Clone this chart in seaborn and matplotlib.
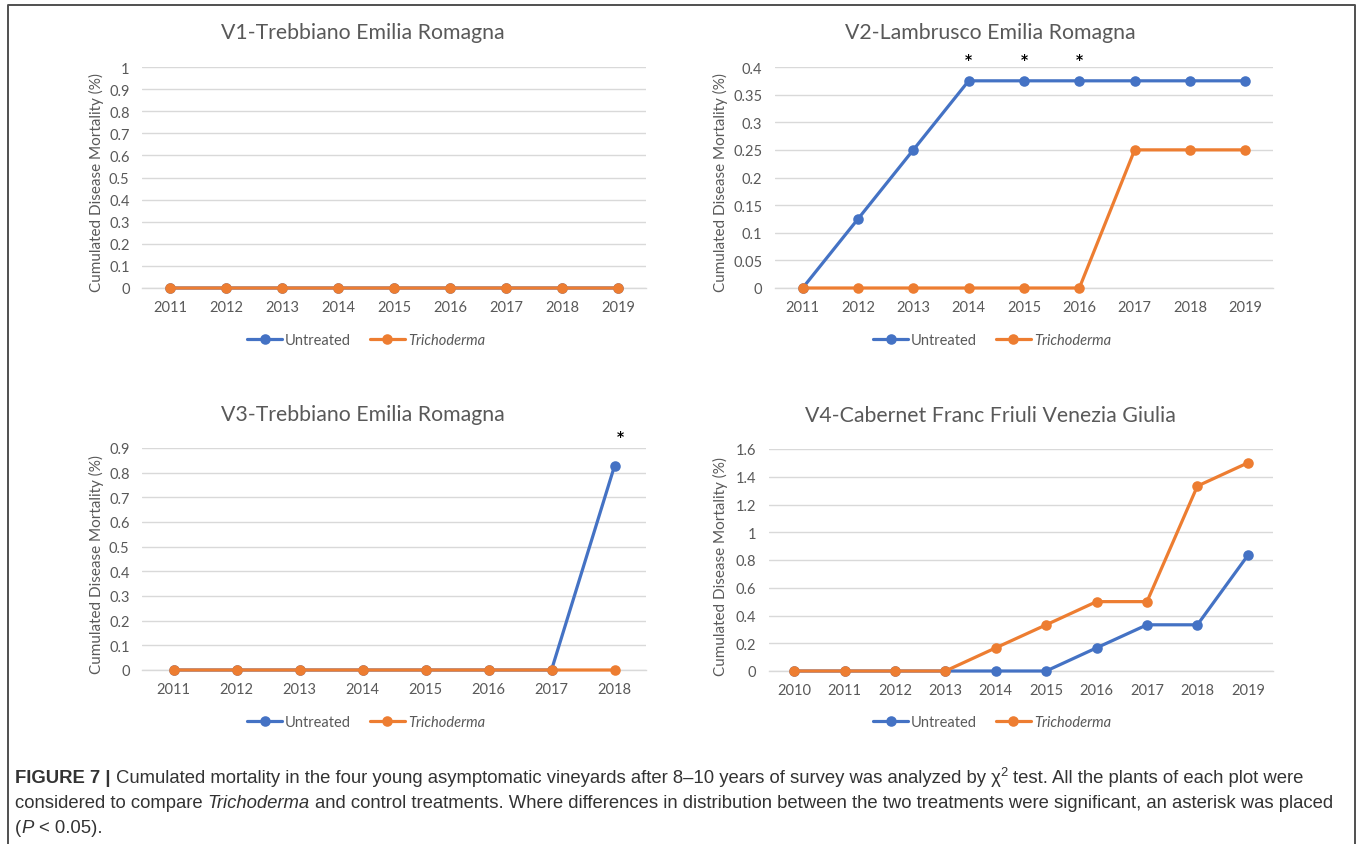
import matplotlib
matplotlib.use("Agg")
import matplotlib.pyplot as plt
from matplotlib.lines import Line2D
from matplotlib.ticker import MultipleLocator, FixedLocator, FuncFormatter
from matplotlib.transforms import blended_transform_factory
import pandas as pd
import seaborn as sns

# ---------------------------------------------------------------- data
v1_title = "V1-Trebbiano Emilia Romagna"
v1_years = [2011, 2012, 2013, 2014, 2015, 2016, 2017, 2018, 2019]
v1_untreated = [0, 0, 0, 0, 0, 0, 0, 0, 0]
v1_trichoderma = [0, 0, 0, 0, 0, 0, 0, 0, 0]
v1_significant = []

v2_title = "V2-Lambrusco Emilia Romagna"
v2_years = [2011, 2012, 2013, 2014, 2015, 2016, 2017, 2018, 2019]
v2_untreated = [0, 0.125, 0.25, 0.375, 0.375, 0.375, 0.375, 0.375, 0.375]
v2_trichoderma = [0, 0, 0, 0, 0, 0, 0.25, 0.25, 0.25]
v2_significant = [2014, 2015, 2016]

v3_title = "V3-Trebbiano Emilia Romagna"
v3_years = [2011, 2012, 2013, 2014, 2015, 2016, 2017, 2018]
v3_untreated = [0, 0, 0, 0, 0, 0, 0, 0.827]
v3_trichoderma = [0, 0, 0, 0, 0, 0, 0, 0]
v3_significant = [2018]

v4_title = "V4-Cabernet Franc Friuli Venezia Giulia"
v4_years = [2010, 2011, 2012, 2013, 2014, 2015, 2016, 2017, 2018, 2019]
v4_untreated = [0, 0, 0, 0, 0, 0, 0.167, 0.333, 0.333, 0.833]
v4_trichoderma = [0, 0, 0, 0, 0.167, 0.333, 0.5, 0.5, 1.333, 1.5]
v4_significant = []

treatments = ["Untreated", "Trichoderma"]
ylabel = "Cumulated Disease Mortality (%)"

# ---------------------------------------------------------------- style
sns.set_theme(style="white")
CHART_FONT = ["Lato", "DejaVu Sans"]
CAPTION_FONT = ["Liberation Sans", "DejaVu Sans"]
plt.rcParams["font.family"] = CHART_FONT

BLUE, ORANGE = "#4472C4", "#ED7D31"
palette = {"Untreated": BLUE, "Trichoderma": ORANGE}
z_order = {"Untreated": 3, "Trichoderma": 4}
TEXT = "#595959"
GRID = "#d9d9d9"
LW, MS = 2.3, 7.6

W, H = 1357, 845
fig = plt.figure(figsize=(W / 100, H / 100), dpi=100)
fig.patch.set_facecolor("white")


def px_axes(x0, y0, x1, y1):
    return fig.add_axes([x0 / W, 1 - y1 / H, (x1 - x0) / W, (y1 - y0) / H])


def panel(ax, title, years, untreated, trichoderma, significant,
          ymax, ystep, title_xy, ylabel_xy, legend_xy, star_pad, star_dx=0.0):
    series = {"Untreated": untreated, "Trichoderma": trichoderma}
    # untreated first, Trichoderma drawn on top of it; no pixel snapping so
    # overlapping segments of both series land on exactly the same pixels
    for name in treatments:
        df = pd.DataFrame({"Year": years, "Mortality": series[name]})
        sns.lineplot(data=df, x="Year", y="Mortality", color=palette[name],
                     marker="o", markersize=MS, markeredgewidth=0,
                     linewidth=LW, estimator=None, errorbar=None,
                     zorder=z_order[name], clip_on=False, snap=False, ax=ax)

    ax.set_xlim(years[0] - 0.5, years[-1] + 0.5)
    ax.set_ylim(0, ymax)
    ax.set_xlabel("")
    ax.set_ylabel("")
    ax.xaxis.set_major_locator(FixedLocator(years))
    ax.xaxis.set_minor_locator(
        FixedLocator([y - 0.5 for y in years] + [years[-1] + 0.5]))
    ax.yaxis.set_major_locator(MultipleLocator(ystep))
    ax.yaxis.set_major_formatter(FuncFormatter(lambda v, p: f"{v:g}"))
    ax.tick_params(axis="x", which="major", length=0, pad=9,
                   labelsize=10.5, labelcolor=TEXT)
    ax.tick_params(axis="x", which="minor", length=4, width=1, color=GRID)
    ax.tick_params(axis="y", length=0, pad=9, labelsize=10.5,
                   labelcolor=TEXT)
    for s in ("left", "right", "top"):
        ax.spines[s].set_visible(False)
    ax.spines["bottom"].set_color(GRID)
    ax.spines["bottom"].set_linewidth(1)
    ax.spines["bottom"].set_zorder(1)
    ax.grid(axis="y", color=GRID, linewidth=1)
    ax.set_axisbelow(True)

    # significance marks above the plot area
    tr = blended_transform_factory(ax.transData, ax.transAxes)
    for yr in significant:
        ax.text(yr + star_dx, 1 + star_pad, "*", transform=tr, ha="center",
                va="center", fontsize=10, color="black", fontweight="bold",
                family=["DejaVu Sans"])

    fig.text(title_xy[0] / W, 1 - title_xy[1] / H, title, ha="center",
             va="center", fontsize=15.3, color=TEXT)
    fig.text(ylabel_xy[0] / W, 1 - ylabel_xy[1] / H, ylabel, ha="center",
             va="center", rotation=90, fontsize=11, color=TEXT)

    handles = [Line2D([], [], color=palette[t], marker="o", lw=LW,
                      markersize=MS, markeredgewidth=0) for t in treatments]
    leg = ax.legend(handles, treatments, loc="center",
                    bbox_to_anchor=(legend_xy[0] / W, 1 - legend_xy[1] / H),
                    bbox_transform=fig.transFigure, ncol=2, frameon=False,
                    handlelength=2.4, handletextpad=0.2, columnspacing=1.3,
                    fontsize=10.5, labelcolor=TEXT)
    leg.get_texts()[1].set_style("italic")


ax1 = px_axes(142, 68, 646, 289)
panel(ax1, v1_title, v1_years, v1_untreated, v1_trichoderma, v1_significant,
      1.0, 0.1, (363, 33), (96, 183), (366, 341), 0.0)

ax2 = px_axes(775, 68, 1273, 289)
panel(ax2, v2_title, v2_years, v2_untreated, v2_trichoderma, v2_significant,
      0.4, 0.05, (990, 33), (720, 183), (992, 341), 0.036)

ax3 = px_axes(142, 449, 646, 671)
panel(ax3, v3_title, v3_years, v3_untreated, v3_trichoderma, v3_significant,
      0.9, 0.1, (363, 415), (96, 565), (366, 723), 0.054, 0.1)

ax4 = px_axes(769, 450, 1273, 672)
panel(ax4, v4_title, v4_years, v4_untreated, v4_trichoderma, v4_significant,
      1.6, 0.2, (990, 416), (720, 567), (992, 723), 0.0)

# ---------------------------------------------------------------- frame
fig.add_artist(Line2D([8 / W, 8 / W, 1355 / W, 1355 / W],
                      [0, 1 - 6 / H, 1 - 6 / H, 0],
                      transform=fig.transFigure, color="#505050", lw=1.4))

# ---------------------------------------------------------------- caption
CAP_SIZE = 13.3
CAP_COLOR = "#333333"
renderer = fig.canvas.get_renderer()


def text_width(s, **kw):
    t = fig.text(0, 0, s, family=CAPTION_FONT, **kw)
    w = t.get_window_extent(renderer).width
    t.remove()
    return w


def caption_line(x_px, base_px, runs):
    x = x_px
    for s, kw in runs:
        kw = dict(kw)
        dy = kw.pop("dy", 0)
        size = kw.pop("size", CAP_SIZE)
        space = text_width("a a", size=size, **kw) - text_width("aa", size=size, **kw)
        lead = len(s) - len(s.lstrip(" "))
        trail = len(s) - len(s.rstrip(" "))
        x += lead * space
        body = s.strip(" ")
        t = fig.text(x / W, 1 - (base_px - dy) / H, body, ha="left",
                     va="baseline", size=size, color=CAP_COLOR,
                     family=CAPTION_FONT, **kw)
        x += t.get_window_extent(renderer).width + trail * space


caption_line(15, 783, [
    ("FIGURE 7 |", {"weight": "bold"}),
    (" Cumulated mortality in the four young asymptomatic vineyards after "
     "8\u201310 years of survey was analyzed by \u03c7", {}),
    ("2", {"size": CAP_SIZE * 0.7, "dy": 7}),
    (" test. All the plants of each plot were", {}),
])
caption_line(15, 808, [
    ("considered to compare ", {}),
    ("Trichoderma", {"style": "italic"}),
    (" and control treatments. Where differences in distribution between "
     "the two treatments were significant, an asterisk was placed", {}),
])
caption_line(15, 833, [
    ("(", {}),
    ("P", {"style": "italic"}),
    (" < 0.05).", {}),
])

fig.savefig("out.png", dpi=100, facecolor="white")
